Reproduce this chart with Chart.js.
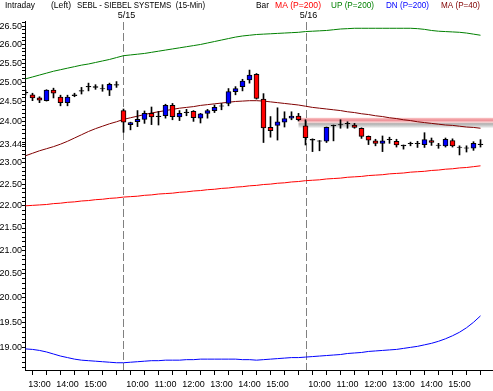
<!DOCTYPE html>
<html>
<head>
<meta charset="utf-8">
<script src="https://cdn.jsdelivr.net/npm/chart.js@4.4.1/dist/chart.umd.min.js"></script>
<style>
  html, body { margin: 0; padding: 0; background: #fff; }
  canvas { display: block; }
</style>
</head>
<body>
<canvas id="chart" width="493" height="391"></canvas>
<script>
// 15-min bars, 5/14 12:30 .. 5/16 15:45 (index 0..65)
const open = [
  24.74, 24.68, 24.60, 24.53, 24.80, 24.62, 24.48, 24.66, 24.77, 24.88, 24.87, 24.84, 24.80, 24.93,
  24.28, 23.93, 24.00, 24.06, 24.21, 24.14, 24.15, 24.41, 24.12, 24.24, 24.26, 24.09, 24.21,
  24.28, 24.39, 24.46, 24.76, 24.89, 25.06, 25.21, 24.57, 23.86, 23.91, 23.99, 24.09, 24.14,
  23.90, 23.57, 23.53, 23.52, 23.91, 23.93, 23.96, 23.92, 23.84, 23.64, 23.53, 23.47, 23.57,
  23.52, 23.43, 23.47, 23.47, 23.44, 23.54, 23.43, 23.41, 23.54, 23.38, 23.36, 23.35, 23.45
];
const high = [
  24.80, 24.72, 24.63, 24.81, 24.85, 24.67, 24.67, 24.72, 24.87, 24.98, 24.94, 24.94, 24.98, 25.02,
  24.32, 23.99, 24.28, 24.27, 24.37, 24.26, 24.44, 24.46, 24.28, 24.31, 24.28, 24.21, 24.31,
  24.42, 24.46, 24.84, 24.89, 25.08, 25.32, 25.23, 24.71, 24.13, 24.35, 24.25, 24.25, 24.21,
  24.05, 23.58, 23.54, 23.87, 23.92, 24.05, 24.00, 23.96, 23.85, 23.65, 23.57, 23.65, 23.62,
  23.57, 23.43, 23.50, 23.52, 23.73, 23.60, 23.47, 23.60, 23.58, 23.41, 23.41, 23.51, 23.56
];
const low = [
  24.68, 24.53, 24.48, 24.52, 24.60, 24.40, 24.40, 24.63, 24.70, 24.78, 24.82, 24.77, 24.66, 24.87,
  23.74, 23.80, 23.88, 23.96, 23.93, 23.92, 24.09, 24.05, 24.03, 24.15, 24.01, 23.97, 24.09,
  24.23, 24.30, 24.40, 24.68, 24.78, 24.98, 24.57, 23.49, 23.62, 23.55, 23.87, 24.05, 24.02,
  23.43, 23.27, 23.29, 23.49, 23.53, 23.84, 23.84, 23.84, 23.59, 23.44, 23.41, 23.27, 23.47,
  23.38, 23.33, 23.41, 23.37, 23.37, 23.42, 23.35, 23.38, 23.38, 23.19, 23.26, 23.30, 23.38
];
const close = [
  24.73, 24.60, 24.54, 24.80, 24.72, 24.48, 24.62, 24.68, 24.79, 24.90, 24.89, 24.83, 24.95, 24.94,
  23.99, 23.98, 24.06, 24.21, 24.12, 24.13, 24.41, 24.13, 24.21, 24.23, 24.10, 24.20, 24.28,
  24.36, 24.40, 24.76, 24.84, 25.03, 25.19, 24.59, 23.85, 23.78, 24.00, 24.08, 24.14, 24.05,
  23.61, 23.55, 23.52, 23.86, 23.90, 23.92, 23.95, 23.86, 23.64, 23.55, 23.47, 23.53, 23.56,
  23.43, 23.41, 23.46, 23.46, 23.56, 23.49, 23.42, 23.57, 23.41, 23.37, 23.35, 23.47, 23.44
];

const ma200 = [
  22.00, 22.01, 22.02, 22.03, 22.05, 22.06, 22.08, 22.09, 22.11, 22.12,
  22.14, 22.15, 22.17, 22.18, 22.20, 22.21, 22.22, 22.24, 22.25, 22.27,
  22.28, 22.29, 22.31, 22.32, 22.34, 22.35, 22.37, 22.38, 22.40, 22.41,
  22.43, 22.44, 22.46, 22.47, 22.49, 22.50, 22.52, 22.53, 22.55, 22.56,
  22.58, 22.59, 22.60, 22.62, 22.63, 22.64, 22.66, 22.67, 22.68, 22.70,
  22.71, 22.72, 22.74, 22.75, 22.76, 22.78, 22.79, 22.80, 22.82, 22.83,
  22.85, 22.86, 22.88, 22.89, 22.91, 22.93
];
const upBand = [
  25.09, 25.14, 25.19, 25.24, 25.29, 25.33, 25.37, 25.41, 25.45, 25.48,
  25.52, 25.56, 25.60, 25.65, 25.70, 25.72, 25.74, 25.76, 25.79, 25.82,
  25.85, 25.88, 25.91, 25.94, 25.97, 26.00, 26.04, 26.08, 26.12, 26.16,
  26.20, 26.23, 26.25, 26.27, 26.28, 26.29, 26.30, 26.31, 26.32, 26.33,
  26.35, 26.36, 26.37, 26.38, 26.40, 26.42, 26.43, 26.44, 26.44, 26.44,
  26.44, 26.44, 26.44, 26.44, 26.44, 26.44, 26.43, 26.41, 26.38, 26.36,
  26.35, 26.34, 26.33, 26.31, 26.28, 26.25
];
const dnBand = [
  18.97, 18.96, 18.94, 18.91, 18.87, 18.83, 18.80, 18.77, 18.75, 18.74,
  18.73, 18.72, 18.71, 18.70, 18.70, 18.71, 18.72, 18.73, 18.74, 18.74,
  18.75, 18.75, 18.75, 18.76, 18.76, 18.77, 18.77, 18.77, 18.77, 18.77,
  18.77, 18.76, 18.76, 18.75, 18.76, 18.77, 18.78, 18.79, 18.80, 18.80,
  18.81, 18.82, 18.83, 18.84, 18.85, 18.86, 18.88, 18.89, 18.90, 18.92,
  18.93, 18.94, 18.95, 18.96, 18.98, 19.00, 19.02, 19.05, 19.08, 19.12,
  19.17, 19.23, 19.30, 19.39, 19.50, 19.63
];
const ma40 = [
  23.17, 23.23, 23.29, 23.34, 23.39, 23.45, 23.52, 23.60, 23.68, 23.76,
  23.83, 23.89, 23.95, 24.00, 24.06, 24.10, 24.14, 24.18, 24.22, 24.25,
  24.28, 24.31, 24.34, 24.36, 24.38, 24.41, 24.43, 24.45, 24.47, 24.49,
  24.51, 24.52, 24.53, 24.53, 24.52, 24.50, 24.48, 24.46, 24.44, 24.42,
  24.39, 24.36, 24.34, 24.32, 24.30, 24.28, 24.25, 24.23, 24.20, 24.18,
  24.15, 24.13, 24.10, 24.08, 24.05, 24.03, 24.00, 23.98, 23.96, 23.94,
  23.92, 23.91, 23.89, 23.87, 23.86, 23.84
];

const hourTickIdx = [2, 6, 10, 16, 20, 24, 28, 32, 36, 42, 46, 50, 54, 58, 62];
const hourTickLabels = ['13:00', '14:00', '15:00', '10:00', '11:00', '12:00', '13:00', '14:00', '15:00',
                        '10:00', '11:00', '12:00', '13:00', '14:00', '15:00'];
const dayStartIdx = [14, 40];
const dayLabels = ['5/15', '5/16'];
const lastPrice = 23.44;
const resistLevel = 24.0;
const resistFrom = 39;

const FONT = 'Liberation Sans';
Chart.defaults.font.family = FONT;
Chart.defaults.color = '#000';

function candleColor(i) {
    const d = close[i] - open[i];
    if (d > 0.025) return '#0000ff';
    if (d < -0.025) return '#ff0000';
    return '#000000';
}

function lineSet(label, values, color, order) {
    return {
        type: 'line',
        label: label,
        data: values.map((v, i) => ({ x: i, y: v })),
        borderColor: color,
        borderWidth: 1,
        pointRadius: 0,
        tension: 0,
        order: order
    };
}

const overlay = {
    id: 'overlay',
    beforeDatasetsDraw(chart) {
        const { ctx, chartArea, scales } = chart;
        const x = scales.x, y = scales.y;
        ctx.save();

        // shaded resistance line
        const yc = y.getPixelForValue(resistLevel);
        const x0 = x.getPixelForValue(resistFrom);
        const g = ctx.createLinearGradient(0, yc - 4, 0, yc + 6);
        g.addColorStop(0, 'rgb(250,200,200)');
        g.addColorStop(0.25, 'rgb(238,140,148)');
        g.addColorStop(0.45, 'rgb(250,212,212)');
        g.addColorStop(0.6, 'rgb(175,175,175)');
        g.addColorStop(1, 'rgb(238,238,238)');
        ctx.fillStyle = g;
        ctx.fillRect(x0, yc - 4, chartArea.right - x0, 10);

        // day separators
        ctx.strokeStyle = '#808080';
        ctx.lineWidth = 1;
        ctx.setLineDash([8, 3]);
        dayStartIdx.forEach(i => {
            const px = Math.round(x.getPixelForValue(i)) + 0.5;
            ctx.beginPath();
            ctx.moveTo(px, chartArea.top + 1);
            ctx.lineTo(px, chartArea.bottom);
            ctx.stroke();
        });
        ctx.restore();
    },
    afterDraw(chart) {
        const { ctx, scales } = chart;
        ctx.save();
        ctx.font = '9px "' + FONT + '"';
        ctx.textBaseline = 'middle';
        ctx.textAlign = 'left';
        const head = [
            ['Intraday', '#000000', 5, 30],
            ['(Left)', '#000000', 51, 20],
            ['SEBL - SIEBEL SYSTEMS  (15-Min)', '#000000', 77, 128],
            ['Bar', '#000000', 256, 13],
            ['MA (P=200)', '#ff0000', 275, 46],
            ['UP (P=200)', '#008000', 331, 43],
            ['DN (P=200)', '#0000ff', 386, 43],
            ['MA (P=40)', '#800000', 441, 39]
        ];
        head.forEach(([t, c, hx, w]) => {
            ctx.fillStyle = c;
            ctx.fillText(t, hx, 6, w);
        });
        ctx.fillStyle = '#000';
        ctx.textAlign = 'center';
        dayStartIdx.forEach((i, k) => {
            ctx.fillText(dayLabels[k], scales.x.getPixelForValue(i) + 3, 16);
        });
        ctx.restore();
    }
};

const yTicks = [];
for (let k = 186; k <= 266; k++) yTicks.push(k / 10);
yTicks.push(lastPrice);

const xMin = -0.5 / 7;

new Chart(document.getElementById('chart'), {
    type: 'bar',
    data: {
        datasets: [
            {
                type: 'bar',
                label: 'body',
                data: open.map((o, i) => ({ x: i, y: [o, close[i]] })),
                backgroundColor: open.map((o, i) => candleColor(i)),
                borderColor: '#000',
                borderWidth: 1,
                borderSkipped: false,
                barThickness: 5,
                grouped: false,
                order: 1
            },
            {
                type: 'bar',
                label: 'wick',
                data: low.map((l, i) => ({ x: i, y: [l, high[i]] })),
                backgroundColor: '#000',
                borderWidth: 0,
                barThickness: 1,
                grouped: false,
                order: 2
            },
            lineSet('MA (P=200)', ma200, '#ff0000', 3),
            lineSet('UP (P=200)', upBand, '#008000', 4),
            lineSet('DN (P=200)', dnBand, '#0000ff', 5),
            lineSet('MA (P=40)', ma40, '#800000', 6)
        ]
    },
    options: {
        responsive: false,
        animation: false,
        devicePixelRatio: 1,
        layout: { padding: { top: 21, left: 0, right: 0, bottom: 0 } },
        plugins: { legend: { display: false }, tooltip: { enabled: false } },
        scales: {
            x: {
                type: 'linear',
                min: xMin,
                max: xMin + 468 / 7,
                offset: false,
                grid: { drawOnChartArea: false, tickLength: 5, color: '#000' },
                border: { color: '#000' },
                ticks: {
                    autoSkip: false,
                    maxRotation: 0,
                    padding: 4,
                    font: { size: 9 },
                    callback: v => {
                        const k = hourTickIdx.indexOf(v);
                        return k >= 0 ? hourTickLabels[k] : '';
                    }
                },
                afterBuildTicks: s => {
                    const t = [];
                    for (let i = 0; i <= 66; i += 2) t.push({ value: i });
                    s.ticks = t;
                },
                afterFit: s => { s.height = 21; }
            },
            y: {
                type: 'logarithmic',
                position: 'left',
                min: 18.56,
                max: 26.64,
                grid: { drawOnChartArea: false, tickLength: 3, color: '#000' },
                border: { color: '#000' },
                ticks: {
                    autoSkip: false,
                    padding: 0,
                    font: { size: 9 },
                    callback: v => {
                        if (Math.abs(v - lastPrice) < 1e-6) return lastPrice.toFixed(2);
                        if (Math.abs(v - lastPrice) < 0.1) return '';
                        const h = v * 2;
                        return Math.abs(h - Math.round(h)) < 1e-6 ? v.toFixed(2) : '';
                    }
                },
                afterBuildTicks: s => { s.ticks = yTicks.map(v => ({ value: v })); },
                afterFit: s => { s.width = 25; }
            }
        }
    },
    plugins: [overlay]
});
</script>
</body>
</html>
